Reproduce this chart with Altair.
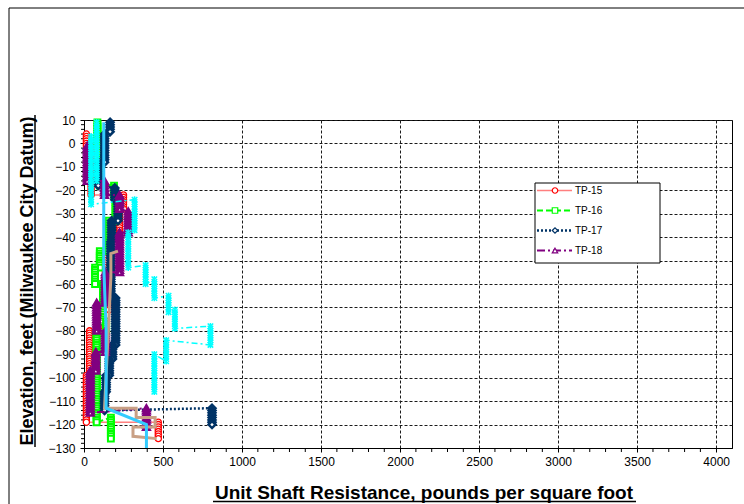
import altair as alt
import pandas as pd

FONT = "Arial, Liberation Sans, sans-serif"

# ---- axes -----------------------------------------------------------------
X_DOMAIN = [0, 4100]
Y_DOMAIN = [-130, 10]
X_TICKS = [0, 500, 1000, 1500, 2000, 2500, 3000, 3500, 4000]
Y_TICKS = [10, 0, -10, -20, -30, -40, -50, -60, -70, -80, -90, -100, -110, -120, -130]
X_MINOR = [v for v in range(0, 4100, 100) if v % 500]
Y_MINOR = [v for v in range(-130, 11, 2) if v % 10]

# ---- unit shaft resistance profiles ----------------------------------------
# each profile is a run of constant resistance (psf) between two elevations (ft)
TP15_PSF = [15, 45, 250, 225, 160, 135, 160, 100, 35, 15, 470]
TP15_TOP = [4, -1, -22, -28, -42, -48, -55, -71, -80, -99, -119]
TP15_BOT = [-1, -22, -28, -42, -48, -55, -71, -80, -99, -119, -126]

TP16_PSF = [85, 100, 190, 200, 155, 100, 70, 120, 140, 80, 170]
TP16_TOP = [9, 0, -18, -22, -33, -46, -53, -60, -76, -80, -117]
TP16_BOT = [0, -18, -22, -33, -46, -53, -60, -76, -80, -119, -126]

TP17_PSF = [165, 130, 90, 195, 215, 175, 170, 170, 200, 180, 160, 140, 130, 810]
TP17_TOP = [9, 4, -8, -19, -24, -33, -42, -53, -66, -86, -92, -99, -106, -113]
TP17_BOT = [5, -8, -18, -24, -33, -42, -53, -66, -86, -92, -99, -106, -114, -120]

TP18_PSF = [20, 130, 225, 280, 225, 135, 80, 135, 75, 40, 395]
TP18_TOP = [-1, -16, -22, -29, -38, -55, -68, -80, -89, -97, -113]
TP18_BOT = [-16, -22, -28, -38, -55, -68, -80, -89, -97, -115, -121]

CYAN_PSF = [80, 45, 320, 280, 390, 445, 535, 575, 800, 520, 445]
CYAN_TOP = [9, 3, -24, -38, -52, -58, -65, -71, -78, -84, -90]
CYAN_BOT = [-16, -26, -37, -53, -60, -66, -72, -79, -86, -93, -106]

# plain traces without markers (vertices)
BLUE_PSF = [125, 125, 140, 140, 395, 395]
BLUE_ELEV = [9, -52, -80, -113, -120, -130]
TAN_PSF = [215, 170, 170, 130, 330, 330, 450, 450, 310, 310, 460]
TAN_ELEV = [-46, -47, -57, -113, -113, -117, -117, -121, -121, -125, -126]

ELEV_STEP = 1.0  # reading interval along the shaft

LEGEND_NAMES = ["TP-15", "TP-16", "TP-17", "TP-18"]

STYLE = {
    "TP-15": dict(color="#FF0000", line="#FF7F7F", dash=None, width=1.5,
                  shape="circle", size=38, sw=1.3),
    "TP-16": dict(color="#00FF00", line="#00FF00", dash=[6, 3], width=2,
                  shape="square", size=34, sw=2),
    "TP-17": dict(color="#003366", line="#003366", dash=[2, 2], width=2.5,
                  shape="diamond", size=48, sw=2.5),
    "TP-18": dict(color="#800080", line="#800080", dash=[8, 3, 2, 3], width=2,
                  shape="triangle-up", size=40, sw=2.5),
    "cyan": dict(color="#00FFFF", line="#00FFFF", dash=[6, 3, 2, 3], width=1.5,
                 shape="M-1,-1L1,1M1,-1L-1,1M0,-1.2L0,1.2", size=30, sw=1.5),
}


def runs(name, psf, top, bot):
    rows, i = [], 0
    for v, t, b in zip(psf, top, bot):
        e = t
        while e >= b - 1e-9:
            rows.append({"series": name, "x": v, "elev": e, "i": i})
            i += 1
            e -= ELEV_STEP
    return pd.DataFrame(rows)


def trace(name, psf, elev):
    return pd.DataFrame({"series": name, "x": psf, "elev": elev,
                         "i": list(range(len(psf)))})


XSCALE = alt.Scale(domain=X_DOMAIN, nice=False, zero=False)
YSCALE = alt.Scale(domain=Y_DOMAIN, nice=False, zero=False)
XAXIS = alt.Axis(values=X_TICKS, title=None, format="d", grid=True,
                 gridColor="#1a1a1a", gridDash=[3, 2], gridWidth=1,
                 domainColor="#000000", domainWidth=1, tickColor="#000000",
                 tickSize=4, labelFont=FONT, labelFontSize=12,
                 labelColor="#000000", labelPadding=4, labelFlush=False,
                 labelOverlap=False)
YAXIS = alt.Axis(values=Y_TICKS, title=None, format="d", grid=True,
                 gridColor="#1a1a1a", gridDash=[3, 2], gridWidth=1,
                 domainColor="#000000", domainWidth=1, tickColor="#000000",
                 tickSize=4, labelFont=FONT, labelFontSize=12,
                 labelColor="#000000", labelPadding=5, labelFlush=False,
                 labelOverlap=False)


def xy(c):
    return c.encode(x=alt.X("x:Q", scale=XSCALE, axis=XAXIS),
                    y=alt.Y("elev:Q", scale=YSCALE, axis=YAXIS))


layers = []

# minor tick marks
xminor = pd.DataFrame({"x": X_MINOR, "elev": [Y_DOMAIN[0]] * len(X_MINOR)})
layers.append(xy(alt.Chart(xminor).mark_rule(color="#000000", strokeWidth=1))
              .encode(y2=alt.value(332)))
yminor = pd.DataFrame({"elev": Y_MINOR, "x": [0] * len(Y_MINOR)})
layers.append(xy(alt.Chart(yminor).mark_rule(color="#000000", strokeWidth=1))
              .encode(x2=alt.value(-3)))


def series_layers(name, df):
    s = STYLE[name]
    line_kw = dict(color=s["line"], strokeWidth=s["width"])
    if s["dash"]:
        line_kw["strokeDash"] = s["dash"]
    ln = xy(alt.Chart(df).mark_line(**line_kw)).encode(order="i:Q")
    pt_kw = dict(shape=s["shape"], size=s["size"], filled=False,
                 stroke=s["color"], strokeWidth=s["sw"], opacity=1)
    if name != "cyan":
        pt_kw["fill"] = "#FFFFFF"
    pt = xy(alt.Chart(df).mark_point(**pt_kw))
    return [ln, pt]


layers += series_layers("TP-15", runs("TP-15", TP15_PSF, TP15_TOP, TP15_BOT))
layers += series_layers("TP-16", runs("TP-16", TP16_PSF, TP16_TOP, TP16_BOT))
layers += series_layers("TP-17", runs("TP-17", TP17_PSF, TP17_TOP, TP17_BOT))
layers += series_layers("TP-18", runs("TP-18", TP18_PSF, TP18_TOP, TP18_BOT))
layers += series_layers("cyan", runs("cyan", CYAN_PSF, CYAN_TOP, CYAN_BOT))

layers.append(xy(alt.Chart(trace("tan", TAN_PSF, TAN_ELEV))
                 .mark_line(color="#C9A085", strokeWidth=3)).encode(order="i:Q"))
layers.append(xy(alt.Chart(trace("blue", BLUE_PSF, BLUE_ELEV))
                 .mark_line(color="#33CCFF", strokeWidth=3)).encode(order="i:Q"))

one = pd.DataFrame({"k": [0]})

# outer frame
layers.append(alt.Chart(one).mark_rect(fill=None, stroke="#000000", strokeWidth=1)
              .encode(x=alt.value(-75), y=alt.value(-112),
                      x2=alt.value(700), y2=alt.value(420)))

# legend box and entries
layers.append(alt.Chart(one).mark_rect(fill="#FFFFFF", stroke="#000000", strokeWidth=1)
              .encode(x=alt.value(451), y=alt.value(63),
                      x2=alt.value(576), y2=alt.value(143)))
for k, name in enumerate(LEGEND_NAMES):
    s = STYLE[name]
    yy = 70.5 + k * 20
    kw = dict(color=s["line"], strokeWidth=s["width"])
    if s["dash"]:
        kw["strokeDash"] = s["dash"]
    layers.append(alt.Chart(one).mark_rule(**kw)
                  .encode(x=alt.value(453), x2=alt.value(488), y=alt.value(yy)))
    layers.append(alt.Chart(one).mark_point(shape=s["shape"], size=30, filled=False,
                                            fill="#FFFFFF", stroke=s["color"],
                                            strokeWidth=1.2, opacity=1)
                  .encode(x=alt.value(471), y=alt.value(yy)))
    layers.append(alt.Chart(pd.DataFrame({"t": [name]}))
                  .mark_text(font=FONT, fontSize=10, align="left", baseline="middle",
                             color="#000000")
                  .encode(x=alt.value(491), y=alt.value(yy + 0.5), text="t:N"))

# axis titles (bold, underlined)
XTITLE = "Unit Shaft Resistance, pounds per square foot"
YTITLE = "Elevation, feet (Milwaukee City Datum)"
layers.append(alt.Chart(pd.DataFrame({"t": [XTITLE]}))
              .mark_text(font=FONT, fontSize=19, fontWeight="bold", align="center",
                         baseline="alphabetic", color="#000000")
              .encode(x=alt.value(340), y=alt.value(379), text="t:N"))
layers.append(alt.Chart(one).mark_rule(color="#000000", strokeWidth=1.5)
              .encode(x=alt.value(129), x2=alt.value(552), y=alt.value(381.5)))
layers.append(alt.Chart(pd.DataFrame({"t": [YTITLE]}))
              .mark_text(font=FONT, fontSize=18, fontWeight="bold", align="center",
                         baseline="alphabetic", angle=270, color="#000000")
              .encode(x=alt.value(-51), y=alt.value(161), text="t:N"))
layers.append(alt.Chart(one).mark_rule(color="#000000", strokeWidth=1.5)
              .encode(y=alt.value(-5), y2=alt.value(327), x=alt.value(-49)))

chart = (
    alt.layer(*layers)
    .properties(width=648, height=328, autosize="none",
                padding={"left": 84, "top": 120, "right": 12, "bottom": 56},
                background="#FFFFFF")
    .configure_view(stroke="#000000", strokeWidth=1)
)

chart.save("out.html", embed_options={"renderer": "svg", "actions": False})
